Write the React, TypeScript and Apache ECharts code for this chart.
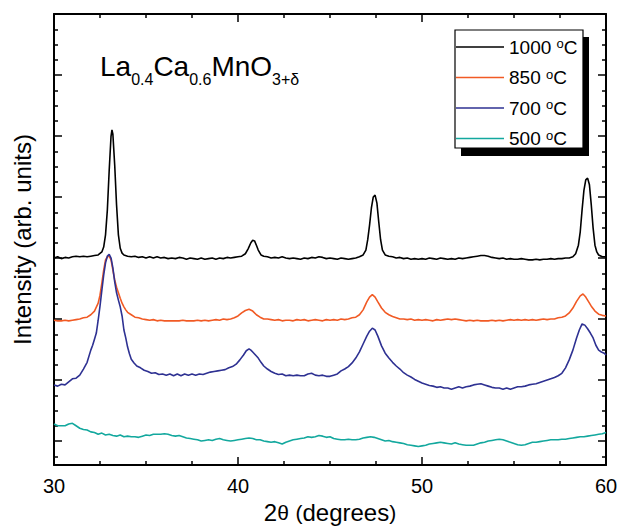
import React, { useEffect, useRef } from "react";
import * as echarts from "echarts";

const FONT = '"Liberation Sans", Arial, Helvetica, sans-serif';

const seriesNames = ["1000 °C", "850 °C", "700 °C", "500 °C"];

const xMin = 30;
const xMax = 60;
const xInterval = 10;

const yMin = -39.3;
const yMax = 700;
const yMajorTicks = [0, 100, 200, 300, 400, 500, 600, 700];
const yMinorTicks = [
  -25, 25, 50, 75, 125, 150, 175, 225, 250, 275, 325, 350, 375, 425, 450, 475,
  525, 550, 575, 625, 650, 675,
];

const titleParts: [string, boolean][] = [
  ["La", false],
  ["0.4", true],
  ["Ca", false],
  ["0.6", true],
  ["MnO", false],
  ["3+δ", true],
];

const s1000: [number, number][] = [
  [30, 300], [30.2, 302], [30.4, 299], [30.6, 301], [30.8, 300], [31, 302], [31.2, 303], [31.4, 302], [31.6, 303], [31.8, 302],
  [32, 303], [32.2, 304], [32.4, 305], [32.6, 310], [32.7, 318], [32.8, 338], [32.9, 379], [33, 444], [33.1, 500], [33.15, 510],
  [33.2, 503], [33.3, 452], [33.4, 387], [33.5, 338], [33.6, 316], [33.7, 308], [33.8, 305], [34, 303], [34.2, 302], [34.4, 303],
  [34.6, 301], [34.8, 302], [35, 300], [35.2, 302], [35.4, 300], [35.6, 302], [35.8, 300], [36, 301], [36.2, 299], [36.4, 300],
  [36.6, 299], [36.8, 301], [37, 300], [37.2, 298], [37.4, 300], [37.6, 299], [37.8, 298], [38, 300], [38.2, 298], [38.4, 299],
  [38.6, 300], [38.8, 298], [39, 300], [39.2, 299], [39.4, 301], [39.6, 300], [39.8, 301], [40, 302], [40.2, 303], [40.4, 307],
  [40.55, 315], [40.7, 325], [40.8, 329], [40.9, 328], [41, 321], [41.1, 313], [41.25, 305], [41.4, 303], [41.6, 302], [41.8, 300],
  [42, 301], [42.2, 300], [42.4, 302], [42.6, 300], [42.8, 299], [43, 300], [43.2, 299], [43.4, 298], [43.6, 300], [43.8, 299],
  [44, 301], [44.2, 300], [44.4, 302], [44.6, 301], [44.8, 299], [45, 300], [45.2, 299], [45.4, 298], [45.6, 300], [45.8, 299],
  [46, 298], [46.2, 299], [46.4, 300], [46.6, 302], [46.8, 305], [46.95, 313], [47.05, 330], [47.15, 354], [47.25, 382], [47.35, 400],
  [47.45, 403], [47.55, 390], [47.65, 359], [47.75, 330], [47.85, 313], [48, 305], [48.2, 303], [48.4, 302], [48.6, 300], [48.8, 301],
  [49, 299], [49.2, 300], [49.4, 298], [49.6, 299], [49.8, 298], [50, 299], [50.2, 298], [50.4, 300], [50.6, 299], [50.8, 298],
  [51, 300], [51.2, 299], [51.4, 298], [51.6, 299], [51.8, 298], [52, 300], [52.2, 299], [52.4, 300], [52.6, 301], [52.8, 302],
  [53, 303], [53.2, 304], [53.4, 304], [53.6, 303], [53.8, 301], [54, 300], [54.2, 299], [54.4, 300], [54.6, 298], [54.8, 299],
  [55, 298], [55.2, 298], [55.4, 299], [55.6, 298], [55.8, 297], [56, 297], [56.2, 298], [56.4, 297], [56.6, 298], [56.8, 298],
  [57, 299], [57.2, 298], [57.4, 299], [57.6, 299], [57.8, 300], [58, 300], [58.2, 302], [58.35, 307], [58.5, 321], [58.6, 343],
  [58.7, 379], [58.8, 411], [58.9, 428], [59, 431], [59.1, 420], [59.2, 387], [59.3, 349], [59.4, 321], [59.5, 310], [59.6, 305],
  [59.8, 302], [60, 302],
];

const s850: [number, number][] = [
  [30, 198], [30.2, 197], [30.4, 197], [30.6, 198], [30.8, 197], [31, 198], [31.2, 199], [31.4, 200], [31.6, 202], [31.8, 203],
  [32, 207], [32.2, 213], [32.4, 226], [32.5, 239], [32.6, 259], [32.7, 280], [32.8, 297], [32.9, 302], [33, 303], [33.1, 297],
  [33.2, 280], [33.3, 264], [33.4, 252], [33.5, 243], [33.6, 234], [33.7, 226], [33.8, 220], [33.9, 215], [34, 211], [34.2, 207],
  [34.4, 203], [34.6, 202], [34.8, 200], [35, 199], [35.2, 198], [35.4, 199], [35.6, 197], [35.8, 198], [36, 197], [36.2, 197],
  [36.4, 197], [36.6, 197], [36.8, 197], [37, 198], [37.2, 197], [37.4, 197], [37.6, 197], [37.8, 198], [38, 197], [38.2, 198],
  [38.4, 197], [38.6, 198], [38.8, 199], [39, 198], [39.2, 200], [39.4, 199], [39.6, 200], [39.8, 202], [40, 205], [40.2, 210],
  [40.4, 214], [40.6, 216], [40.8, 213], [41, 207], [41.2, 203], [41.4, 200], [41.6, 200], [41.8, 199], [42, 198], [42.2, 199],
  [42.4, 197], [42.6, 198], [42.8, 198], [43, 197], [43.2, 199], [43.4, 198], [43.6, 199], [43.8, 197], [44, 198], [44.2, 199],
  [44.4, 198], [44.6, 197], [44.8, 199], [45, 198], [45.2, 199], [45.4, 198], [45.6, 200], [45.8, 199], [46, 200], [46.2, 202],
  [46.4, 203], [46.6, 207], [46.8, 215], [47, 228], [47.15, 236], [47.3, 240], [47.45, 236], [47.6, 228], [47.8, 218], [48, 211],
  [48.2, 207], [48.4, 204], [48.6, 202], [48.8, 200], [49, 200], [49.2, 199], [49.4, 200], [49.6, 198], [49.8, 199], [50, 198],
  [50.2, 199], [50.4, 198], [50.6, 197], [50.8, 199], [51, 198], [51.2, 199], [51.4, 200], [51.6, 199], [51.8, 200], [52, 199],
  [52.2, 198], [52.4, 197], [52.6, 198], [52.8, 197], [53, 198], [53.2, 197], [53.4, 197], [53.6, 197], [53.8, 198], [54, 197],
  [54.2, 198], [54.4, 197], [54.6, 198], [54.8, 199], [55, 198], [55.2, 199], [55.4, 198], [55.6, 199], [55.8, 198], [56, 199],
  [56.2, 198], [56.4, 199], [56.6, 200], [56.8, 199], [57, 200], [57.2, 200], [57.4, 202], [57.6, 203], [57.8, 205], [58, 210],
  [58.2, 218], [58.4, 229], [58.6, 238], [58.75, 241], [58.9, 236], [59, 231], [59.2, 221], [59.4, 213], [59.6, 208], [59.8, 206],
  [60, 205],
];

const s700: [number, number][] = [
  [30, 92], [30.2, 90], [30.4, 93], [30.6, 92], [30.8, 97], [31, 102], [31.2, 103], [31.4, 108], [31.6, 118], [31.8, 129],
  [32, 149], [32.1, 157], [32.2, 167], [32.3, 177], [32.4, 198], [32.5, 221], [32.6, 247], [32.7, 272], [32.8, 292], [32.9, 303],
  [33, 306], [33.1, 300], [33.2, 284], [33.3, 261], [33.4, 243], [33.5, 231], [33.6, 220], [33.7, 205], [33.8, 182], [33.9, 169],
  [34, 154], [34.1, 143], [34.2, 134], [34.35, 128], [34.5, 123], [34.7, 120], [34.9, 116], [35.1, 114], [35.3, 111], [35.5, 112],
  [35.7, 109], [35.9, 110], [36.1, 108], [36.3, 110], [36.5, 107], [36.7, 110], [36.9, 107], [37.1, 110], [37.3, 108], [37.5, 110],
  [37.7, 108], [37.9, 110], [38.1, 109], [38.3, 111], [38.5, 113], [38.7, 114], [38.9, 115], [39.1, 116], [39.3, 117], [39.5, 120],
  [39.7, 122], [39.9, 126], [40.1, 133], [40.3, 141], [40.45, 148], [40.6, 151], [40.7, 149], [40.8, 146], [40.95, 141], [41.1, 136],
  [41.25, 129], [41.4, 123], [41.6, 118], [41.8, 114], [42, 111], [42.2, 109], [42.4, 110], [42.6, 107], [42.8, 108], [43, 107],
  [43.2, 108], [43.4, 107], [43.6, 107], [43.8, 110], [44, 111], [44.2, 108], [44.4, 107], [44.6, 108], [44.8, 106], [45, 106],
  [45.2, 108], [45.4, 110], [45.6, 115], [45.8, 118], [46, 122], [46.2, 128], [46.4, 136], [46.6, 146], [46.8, 159], [47, 172],
  [47.15, 180], [47.3, 185], [47.45, 182], [47.6, 172], [47.8, 156], [48, 144], [48.2, 136], [48.4, 129], [48.6, 123], [48.8, 118],
  [49, 112], [49.2, 108], [49.4, 105], [49.6, 101], [49.8, 98], [50, 95], [50.2, 93], [50.4, 91], [50.6, 90], [50.8, 88],
  [51, 89], [51.2, 87], [51.4, 87], [51.6, 85], [51.8, 87], [52, 89], [52.2, 87], [52.4, 89], [52.6, 90], [52.8, 92],
  [53, 93], [53.2, 94], [53.4, 92], [53.6, 90], [53.8, 88], [54, 87], [54.2, 87], [54.4, 85], [54.6, 87], [54.8, 85],
  [55, 87], [55.2, 89], [55.4, 89], [55.6, 90], [55.8, 92], [56, 93], [56.2, 94], [56.4, 96], [56.6, 98], [56.8, 100],
  [57, 102], [57.2, 104], [57.4, 107], [57.6, 111], [57.8, 120], [58, 133], [58.2, 149], [58.4, 169], [58.55, 182], [58.7, 192],
  [58.85, 190], [59, 184], [59.15, 177], [59.3, 169], [59.45, 157], [59.6, 149], [59.75, 146], [59.9, 144], [60, 141],
];

const s500: [number, number][] = [
  [30, 28], [30.2, 25], [30.4, 25], [30.6, 25], [30.8, 28], [31, 29], [31.2, 25], [31.4, 21], [31.6, 19], [31.8, 18],
  [32, 15], [32.2, 14], [32.4, 11], [32.6, 13], [32.8, 10], [33, 11], [33.2, 9], [33.4, 8], [33.6, 10], [33.8, 7],
  [34, 8], [34.2, 7], [34.4, 7], [34.6, 6], [34.8, 8], [35, 10], [35.2, 9], [35.4, 11], [35.6, 11], [35.8, 11],
  [36, 12], [36.2, 11], [36.4, 9], [36.6, 8], [36.8, 9], [37, 7], [37.2, 5], [37.4, 4], [37.6, 3], [37.8, 2],
  [38, 0], [38.2, 1], [38.4, 2], [38.6, 1], [38.8, 3], [39, 4], [39.2, 2], [39.4, 1], [39.6, 0], [39.8, 1],
  [40, 2], [40.2, 3], [40.4, 4], [40.6, 5], [40.8, 4], [41, 2], [41.2, 2], [41.4, 0], [41.6, -1], [41.8, -2],
  [42, -1], [42.2, -3], [42.4, -5], [42.6, -2], [42.8, 0], [43, 2], [43.2, 3], [43.4, 4], [43.6, 5], [43.8, 7],
  [44, 6], [44.2, 7], [44.4, 9], [44.6, 8], [44.8, 6], [45, 7], [45.2, 4], [45.4, 3], [45.6, 2], [45.8, 2],
  [46, 3], [46.2, 2], [46.4, 2], [46.6, 3], [46.8, 5], [47, 6], [47.2, 7], [47.4, 6], [47.6, 4], [47.8, 2],
  [48, 0], [48.2, 1], [48.4, -1], [48.6, -2], [48.8, -3], [49, -4], [49.2, -6], [49.4, -7], [49.6, -8], [49.8, -9],
  [50, -8], [50.2, -7], [50.4, -5], [50.6, -4], [50.8, -3], [51, -2], [51.2, -3], [51.4, -4], [51.6, -5], [51.8, -3],
  [52, -5], [52.2, -6], [52.4, -7], [52.6, -7], [52.8, -7], [53, -5], [53.2, -3], [53.4, -2], [53.6, 0], [53.8, 1],
  [54, 2], [54.2, 3], [54.4, 2], [54.6, 0], [54.8, -2], [55, -4], [55.2, -6], [55.4, -7], [55.6, -6], [55.8, -4],
  [56, -2], [56.2, -2], [56.4, -1], [56.6, 0], [56.8, 1], [57, 2], [57.2, 2], [57.4, 2], [57.6, 3], [57.8, 3],
  [58, 4], [58.2, 5], [58.4, 6], [58.6, 7], [58.8, 7], [59, 8], [59.2, 9], [59.4, 10], [59.6, 11], [59.8, 12],
  [60, 14],
];

const seriesData = [s1000, s850, s700, s500];
const seriesColors = ["#000000", "#f15a24", "#2e3192", "#13a89e"];

function measure(text: string, size: number): number {
  const c = document.createElement("canvas").getContext("2d");
  if (!c) return text.length * size * 0.55;
  c.font = `${size}px ${FONT}`;
  return c.measureText(text).width;
}

export default function App() {
  const ref = useRef<HTMLDivElement>(null);

  useEffect(() => {
    if (!ref.current) return;
    const chart = echarts.init(ref.current, undefined, { renderer: "svg" });

    const mainSize = 28;
    const subSize = 16;
    let tx = 100;
    const titleEls: any[] = titleParts.map(([t, sub]) => {
      const size = sub ? subSize : mainSize;
      const el = {
        type: "text",
        x: tx,
        y: sub ? 85 - 0.3465 * subSize : 76 - 0.3465 * mainSize,
        z: 30,
        style: {
          text: t,
          fontSize: size,
          fontFamily: FONT,
          fill: "#000",
          align: "left",
          verticalAlign: "middle",
        },
      };
      tx += measure(t, size);
      return el;
    });

    const lineStyleAxis = { color: "#000", width: 2 };
    const tickStyle = { color: "#000", width: 1.5 };

    const xBase = {
      type: "value",
      min: xMin,
      max: xMax,
      interval: xInterval,
      splitLine: { show: false },
      axisLine: { show: true, onZero: false, lineStyle: lineStyleAxis },
      axisTick: { show: true, inside: true, length: 8, lineStyle: tickStyle },
      minorTick: { show: true, splitNumber: 4, length: 4, lineStyle: tickStyle },
    };

    const yBase = {
      type: "value",
      min: yMin,
      max: yMax,
      splitLine: { show: false },
      axisLabel: { show: false },
    };

    const option: any = {
      animation: false,
      backgroundColor: "#ffffff",
      textStyle: { fontFamily: FONT },
      grid: {
        left: 54,
        right: 14,
        top: 14,
        bottom: 63,
        containLabel: false,
        outerBoundsMode: "none",
      },
      legend: {
        orient: "vertical",
        left: 456,
        top: 37,
        padding: 0,
        icon: "rect",
        itemWidth: 48,
        itemHeight: 1.6,
        itemGap: 11,
        z: 40,
        selectedMode: false,
        data: seriesNames,
        formatter: (n: string) => {
          const num = n.split(" ")[0];
          return `{n|${num} }{s|o}{n|C}`;
        },
        textStyle: {
          color: "#000",
          fontSize: 19,
          fontFamily: FONT,
          rich: {
            n: { fontSize: 19, lineHeight: 20, color: "#000", fontFamily: FONT, verticalAlign: "middle" },
            s: { fontSize: 13, lineHeight: 9, color: "#000", fontFamily: FONT, verticalAlign: "top" },
          },
        },
      },
      graphic: [
        {
          type: "rect",
          z: 20,
          shape: { x: 461, y: 37, width: 128, height: 119 },
          style: { fill: "#000" },
        },
        {
          type: "rect",
          z: 21,
          shape: { x: 455, y: 30, width: 128, height: 118 },
          style: { fill: "#fff", stroke: "#000", lineWidth: 1.2 },
        },
        ...titleEls,
      ],
      xAxis: [
        {
          ...xBase,
          position: "bottom",
          axisLabel: { show: true, color: "#000", fontSize: 20, margin: 11, fontFamily: FONT },
          name: "{a|2}{b|θ}{a| }{b|(}{a|degrees}{b|)}",
          nameLocation: "middle",
          nameGap: 32,
          nameTextStyle: {
            color: "#000",
            fontSize: 24,
            fontFamily: FONT,
            rich: {
              a: { fontSize: 24, color: "#000", fontFamily: FONT },
              b: { fontSize: 21, color: "#000", fontFamily: FONT },
            },
          },
        },
        {
          ...xBase,
          position: "top",
          axisLabel: { show: false },
        },
      ],
      yAxis: [
        {
          ...yBase,
          position: "left",
          axisLine: { show: true, onZero: false, lineStyle: lineStyleAxis },
          axisTick: { show: true, inside: true, length: 8, customValues: yMajorTicks, lineStyle: tickStyle },
          name: "Intensity (arb. units)",
          nameLocation: "middle",
          nameGap: 20,
          nameTextStyle: { color: "#000", fontSize: 24, fontFamily: FONT },
        },
        {
          ...yBase,
          position: "left",
          axisLine: { show: false, onZero: false },
          axisTick: { show: true, inside: true, length: 4, customValues: yMinorTicks, lineStyle: tickStyle },
        },
        {
          ...yBase,
          position: "right",
          axisLine: { show: true, onZero: false, lineStyle: lineStyleAxis },
          axisTick: { show: true, inside: true, length: 8, customValues: yMajorTicks, lineStyle: tickStyle },
        },
        {
          ...yBase,
          position: "right",
          axisLine: { show: false, onZero: false },
          axisTick: { show: true, inside: true, length: 4, customValues: yMinorTicks, lineStyle: tickStyle },
        },
      ],
      series: seriesNames.map((name, i) => ({
        type: "line",
        name,
        data: seriesData[i],
        xAxisIndex: 0,
        yAxisIndex: 0,
        symbol: "none",
        showSymbol: false,
        smooth: false,
        lineStyle: { color: seriesColors[i], width: 1.6 },
        itemStyle: { color: seriesColors[i] },
        z: 2 + i,
      })),
    };

    chart.setOption(option);
    return () => chart.dispose();
  }, []);

  return (
    <div
      ref={ref}
      style={{ position: "fixed", left: 0, top: 0, width: 620, height: 528, background: "#fff" }}
    />
  );
}
